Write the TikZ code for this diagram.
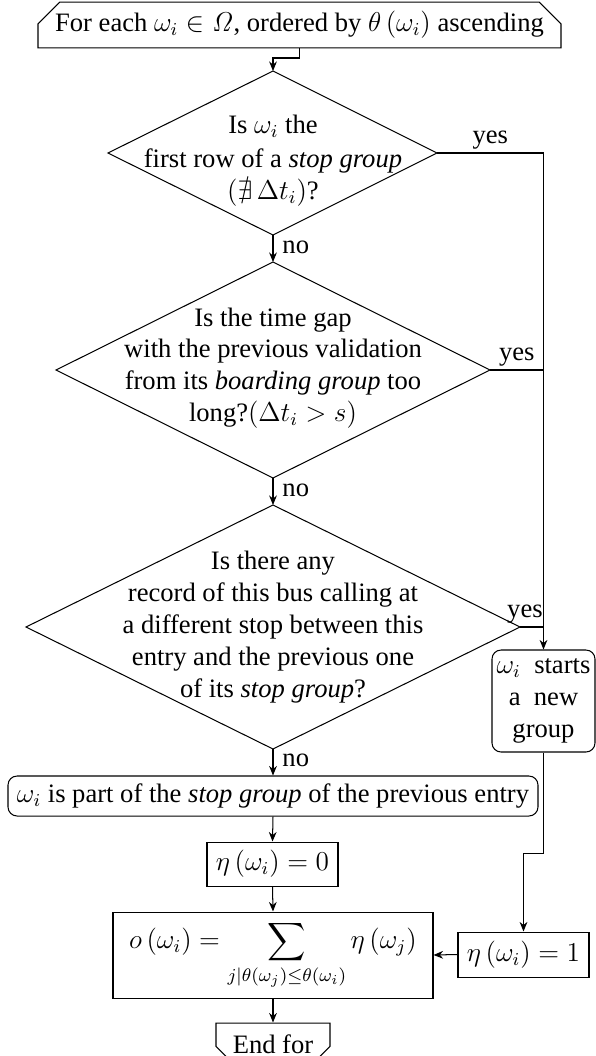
\documentclass[tikz,border=0pt]{standalone}
\usepackage{amsmath,amssymb}
\usepackage[no-math]{fontspec}
\setmainfont{Liberation Serif}
\usetikzlibrary{arrows.meta,shapes.misc,calc}
\newcommand{\fsz}{\fontsize{11.7}{14}\selectfont}
\begin{document}
\begin{tikzpicture}[x=0.44pt,y=-0.44pt,
  arr/.style={-{Stealth[length=4.2pt,width=3.4pt]}},
  line/.style={draw,line width=0.45pt},
  txt/.style={align=center,inner sep=0pt,font=\fsz},
  lbl/.style={inner sep=0pt,font=\fsz},
  boxr/.style={draw,line width=0.45pt,rounded corners=4pt,align=center,inner sep=1pt,font=\fsz},
  boxs/.style={draw,line width=0.45pt,align=center,inner sep=1pt,font=\fsz},
  loopstart/.style={draw,line width=0.45pt,chamfered rectangle,chamfered rectangle corners={north west,north east},chamfered rectangle xsep=6.5pt,align=center,inner sep=1pt,font=\fsz},
  loopend/.style={draw,line width=0.45pt,chamfered rectangle,chamfered rectangle corners={south west,south east},chamfered rectangle xsep=6.5pt,align=center,inner sep=1pt,font=\fsz}
]
\def\u{0.44pt}
\useasboundingbox (0,0) rectangle (596,1056);
\clip (0,0) rectangle (596,1056);

% loop start
\node[loopstart,minimum width={523*\u},minimum height={42*\u}] (loop) at (299.5,25)
  {For each $\omega_i\in\mathit{\Omega}$, ordered by $\theta\left(\omega_i\right)$ ascending};

% diamond 1
\coordinate (d1t) at (273,71);
\coordinate (d1b) at (273,235);
\coordinate (d1l) at (108,153);
\coordinate (d1r) at (437,153);
\draw[line] (d1t) -- (d1r) -- (d1b) -- (d1l) -- cycle;
\node[txt] (d1) at (273,161) {Is $\omega_i$ the\\[1pt] first row of a \textit{stop group}\\ $\left(\nexists\,\Delta t_i\right)$?};

% diamond 2
\coordinate (d2t) at (273,262);
\coordinate (d2b) at (273,478);
\coordinate (d2l) at (56,370);
\coordinate (d2r) at (490,370);
\draw[line] (d2t) -- (d2r) -- (d2b) -- (d2l) -- cycle;
\node[txt] (d2) at (273,368) {Is the time gap\\ with the previous validation\\ from its \textit{boarding group} too\\ long?$\left(\Delta t_i>s\right)$};

% diamond 3
\coordinate (d3t) at (273,505);
\coordinate (d3b) at (273,749);
\coordinate (d3l) at (26,627);
\coordinate (d3r) at (520,627);
\draw[line] (d3t) -- (d3r) -- (d3b) -- (d3l) -- cycle;
\node[txt] (d3) at (273,627) {Is there any\\ record of this bus calling at\\ a different stop between this\\ entry and the previous one\\ of its \textit{stop group}?};

% new group
\node[boxr,minimum width={103*\u},minimum height={102*\u}] (ng) at (543.5,701)
  {$\omega_i$~~starts\\ a~~new\\ group};

% part of stop group
\node[boxr,minimum width={530*\u},minimum height={40*\u}] (part) at (273,796)
  {$\omega_i$ is part of the \textit{stop group} of the previous entry};

% eta 0
\node[boxs,minimum width={131*\u},minimum height={44*\u}] (e0) at (272.5,864)
  {$\eta\left(\omega_i\right)=0$};

% sum
\node[boxs,minimum width={320*\u},minimum height={86*\u}] (sum) at (273,955)
  {$\displaystyle o\left(\omega_i\right)=\sum_{j|\theta(\omega_j)\leq\theta(\omega_i)}\eta\left(\omega_j\right)$};

% eta 1
\node[boxs,minimum width={131*\u},minimum height={45*\u}] (e1) at (523.5,954.5)
  {$\eta\left(\omega_i\right)=1$};

% end for
\node[loopend,minimum width={114*\u},minimum height={42*\u}] (endf) at (273,1044)
  {End for};

% connectors
\coordinate (c0) at (299.5,58);
\draw[line,arr] (loop.south) -- (c0) -| (d1t);
\draw[line,arr] (d1b) -- (d2t);
\node[lbl,anchor=base west] (no1) at ($(d2t)+(9,-9)$) {no};
\draw[line,arr] (d2b) -- (d3t);
\node[lbl,anchor=base west] (no2) at ($(d3t)+(9,-9)$) {no};
\draw[line,arr] (d3b) -- (part.north);
\node[lbl,anchor=base west] (no3) at ($(part.north)+(9,-9)$) {no};
\draw[line,arr] (d1r) -| node[lbl,pos=0.25,above=1.5pt] (y1) {yes} (ng.north);
\draw[line] (d2r) -- node[lbl,midway,above=1.5pt] (y2) {yes} (d2r -| ng.north);
\draw[line] (d3r) -- node[lbl,midway,above=1.5pt,xshift=-3pt] (y3) {yes} (d3r -| ng.north);
\draw[line,arr] (part.south) -- (e0.north);
\draw[line,arr] (e0.south) -- (sum.north);
\draw[line,arr] (sum.south) -- (endf.north);
\coordinate (c1) at (543.5,853);
\draw[line,arr] (ng.south) -- (c1) -| (e1.north);
\draw[line,arr] (e1.west) -- (sum.east);
\end{tikzpicture}
\end{document}
